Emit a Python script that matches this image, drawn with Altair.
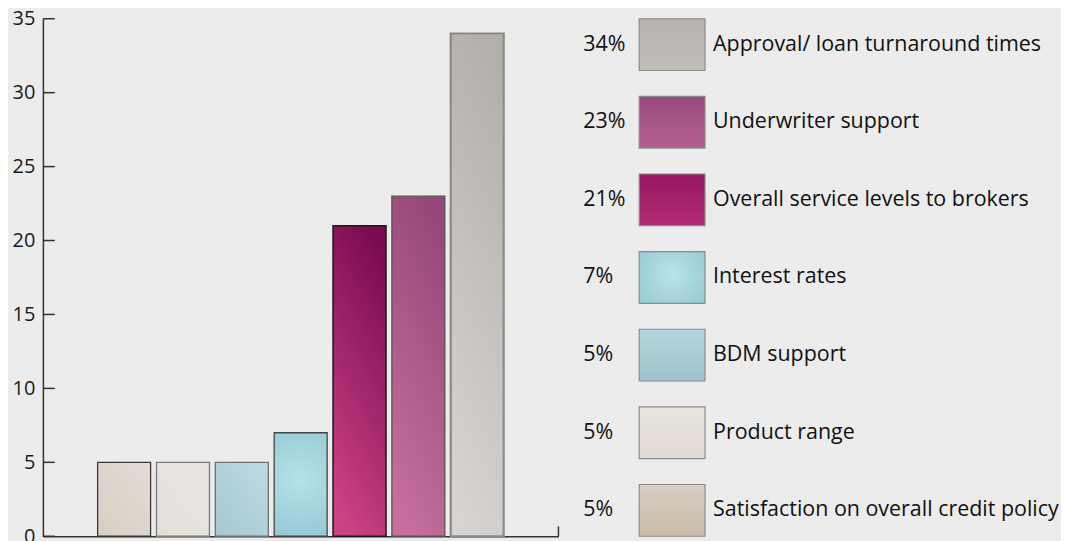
import altair as alt
import pandas as pd

FONT = "Open Sans"

categories = [
    "Satisfaction on overall credit policy",
    "Product range",
    "BDM support",
    "Interest rates",
    "Overall service levels to brokers",
    "Underwriter support",
    "Approval/ loan turnaround times",
]
values = [5, 5, 5, 7, 21, 23, 34]
pct_labels = ["5%", "5%", "5%", "7%", "21%", "23%", "34%"]
y_ticks = [0, 5, 10, 15, 20, 25, 30, 35]
legend_order = list(reversed(categories))

df = pd.DataFrame({"category": categories, "value": values, "pct": pct_labels})
tick_df = pd.DataFrame({"t": y_ticks})


def lin(c1, c2, x1=0, y1=0, x2=0, y2=1):
    return alt.LinearGradient(
        gradient="linear",
        stops=[alt.GradientStop(color=c1, offset=0), alt.GradientStop(color=c2, offset=1)],
        x1=x1, y1=y1, x2=x2, y2=y2,
    )


def rad(c1, c2):
    return alt.RadialGradient(
        gradient="radial",
        stops=[alt.GradientStop(color=c1, offset=0), alt.GradientStop(color=c2, offset=1)],
        x1=0.5, y1=0.45, r1=0, x2=0.5, y2=0.45, r2=0.75,
    )


bar_style = {
    categories[0]: (lin("#d8cec3", "#e3ddd6", 0, 1, 1, 0), "#3a3a3a", 1.3),
    categories[1]: (lin("#e4dfda", "#e8e5e1", 0, 1, 1, 0), "#7a7a7a", 1.3),
    categories[2]: (lin("#a6c8d0", "#bddbe1", 0, 1, 1, 0), "#707070", 1.3),
    categories[3]: (rad("#b4e2e8", "#8fc2cf"), "#444444", 1.3),
    categories[4]: (lin("#7a0b50", "#cc4285", 0.65, 0, 0.35, 1), "#1a1a1a", 1.5),
    categories[5]: (lin("#974679", "#c66f9c", 0.65, 0, 0.35, 1), "#555555", 1.3),
    categories[6]: (lin("#b3b0ab", "#d6d3d1", 0.6, 0, 0.4, 1), "#8a8a8a", 2.2),
}

legend_fill = {
    categories[0]: lin("#d8cec2", "#c9bca9"),
    categories[1]: lin("#e7e3de", "#e1dad2"),
    categories[2]: lin("#b4d7dd", "#9ec3cb"),
    categories[3]: rad("#b8e3e9", "#93c5d0"),
    categories[4]: lin("#951860", "#b02c73"),
    categories[5]: lin("#9c4a7d", "#b25e91"),
    categories[6]: lin("#b6b3ae", "#c1beb9"),
}

x_scale = alt.Scale(domain=categories, paddingInner=0.1, paddingOuter=0.93)
y_scale = alt.Scale(domain=[0, 35], nice=False)

x_axis = alt.Axis(labels=False, ticks=False, title=None, domainColor="#333333", domainWidth=1.5, grid=False)
y_axis = alt.Axis(
    values=y_ticks, tickSize=0, labelPadding=8, labelFontSize=20, labelFont=FONT,
    labelColor="#1a1a1a", title=None, domainColor="#333333", domainWidth=1.5, grid=False,
)

x_enc = alt.X("category:N", scale=x_scale, sort=categories, axis=x_axis)
y_enc = alt.Y("value:Q", scale=y_scale, axis=y_axis)

layers = []
for cat in categories:
    fill, stroke, sw = bar_style[cat]
    layers.append(
        alt.Chart(df)
        .transform_filter(alt.FieldEqualPredicate(field="category", equal=cat))
        .mark_bar(fill=fill, stroke=stroke, strokeWidth=sw)
        .encode(x=x_enc, y=y_enc)
    )

ticks = alt.Chart(tick_df).mark_rule(color="#333333", strokeWidth=1.5).encode(
    y=alt.Y("t:Q", scale=y_scale, axis=y_axis),
    x=alt.value(0),
    x2=alt.value(12),
)

end_tick = alt.Chart(pd.DataFrame({"a": [0]})).mark_rule(color="#333333", strokeWidth=1.5).encode(
    x=alt.value(517), y=alt.value(509), y2=alt.value(519)
)

left = alt.layer(*layers, ticks, end_tick).properties(width=517, height=519)

ly = alt.Y("category:N", sort=legend_order, scale=alt.Scale(domain=legend_order, paddingInner=1 / 3, paddingOuter=0), axis=None)

leg_layers = []
for cat in categories:
    leg_layers.append(
        alt.Chart(df)
        .transform_filter(alt.FieldEqualPredicate(field="category", equal=cat))
        .mark_rect(fill=legend_fill[cat], stroke="#8c8c8c", strokeWidth=1.2)
        .encode(y=ly, x=alt.value(80), x2=alt.value(146))
    )

pct_text = alt.Chart(df).mark_text(
    align="left", baseline="middle", fontSize=21.5, font=FONT, color="#111111"
).encode(y=ly, x=alt.value(24), text="pct:N")

name_text = alt.Chart(df).mark_text(
    align="left", baseline="middle", fontSize=21.5, font=FONT, color="#111111"
).encode(y=ly, x=alt.value(154), text="category:N")

legend = alt.layer(*leg_layers, pct_text, name_text).properties(width=503, height=519)

chart = (
    alt.hconcat(left, legend, spacing=0)
    .configure(background="#ececec", padding={"left": 4, "top": 0, "right": 0, "bottom": 0})
    .configure_view(stroke=None)
)

chart.save("out.html", embed_options={"renderer": "svg", "actions": False})
